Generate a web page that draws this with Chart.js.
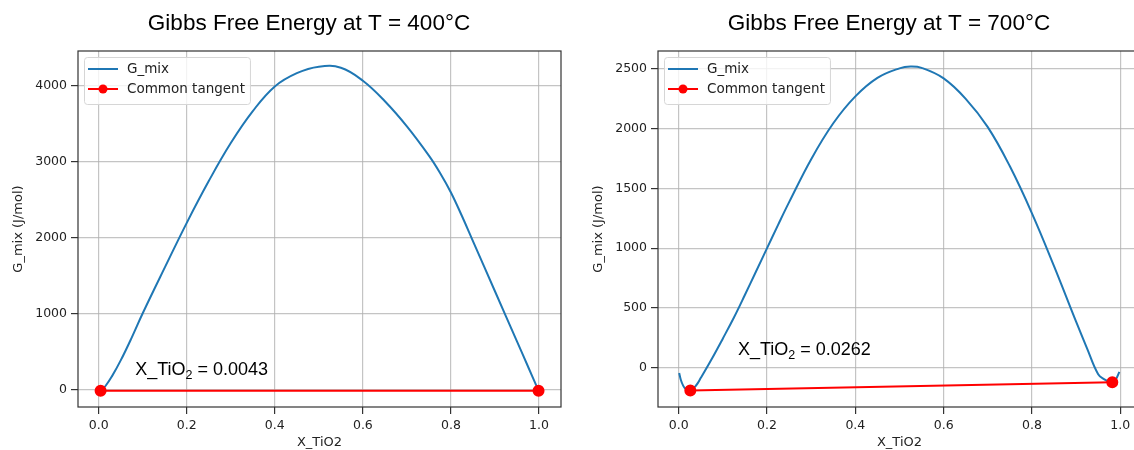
<!DOCTYPE html>
<html>
<head>
<meta charset="utf-8">
<script src="https://cdn.jsdelivr.net/npm/chart.js@4.4.1/dist/chart.umd.min.js"></script>
<style>
  html, body { margin: 0; padding: 0; background: #fff; overflow: hidden; }
  #wrap { position: relative; width: 1134px; height: 450px; overflow: hidden; }
  .panel { position: absolute; top: 0; width: 639px; height: 450px; }
  #p400 { left: 0; }
  #p700 { left: 580px; }
</style>
</head>
<body>
<div id="wrap">
  <div class="panel" id="p400"><canvas id="chart400" width="639" height="450"></canvas></div>
  <div class="panel" id="p700"><canvas id="chart700" width="639" height="450"></canvas></div>
</div>
<script>
// values
var xTicks = [0, 0.2, 0.4, 0.6, 0.8, 1.0];

// T = 400 C
var g400X = [0.001, 0.0043, 0.015, 0.03, 0.05, 0.075, 0.1, 0.15, 0.2, 0.25, 0.3, 0.35, 0.4, 0.45,
             0.5, 0.55, 0.6, 0.65, 0.7, 0.75, 0.775, 0.8, 0.825, 0.85, 0.9, 0.95, 0.975, 0.999];
var g400Y = [-12, -18, 40, 170, 380, 680, 1000, 1600, 2190, 2740, 3240, 3660, 3985, 4160,
             4245, 4230, 4060, 3790, 3460, 3075, 2850, 2590, 2280, 1950, 1290, 630, 300, -18];
var tan400X = [0.0043, 0.999];
var tan400Y = [-18, -18];
var yTicks400 = [0, 1000, 2000, 3000, 4000];

// T = 700 C
var g700X = [0.001, 0.005, 0.01, 0.015, 0.0262, 0.04, 0.05, 0.075, 0.1, 0.125, 0.15, 0.175, 0.2, 0.225,
             0.25, 0.3, 0.35, 0.4, 0.45, 0.5, 0.525, 0.55, 0.6, 0.65, 0.7, 0.75, 0.8, 0.85, 0.9,
             0.925, 0.95, 0.965, 0.975, 0.982, 0.99, 0.998];
var g700Y = [-45, -105, -150, -175, -190, -145, -85, 75, 245, 420, 610, 805, 1000, 1195,
             1385, 1745, 2045, 2270, 2425, 2505, 2520, 2509, 2421, 2250, 2013, 1685, 1292, 850, 385,
             160, -55, -100, -117, -121, -98, -35];
var tan700X = [0.0262, 0.982];
var tan700Y = [-190, -121];
var yTicks700 = [0, 500, 1000, 1500, 2000, 2500];

function pts(xs, ys) {
  return xs.map(function (x, i) { return {x: x, y: ys[i]}; });
}

// title centred where the original figure had it
var titlePlugin = {
  id: 'mplTitle',
  afterDraw: function (chart, args, opts) {
    var ctx = chart.ctx;
    ctx.save();
    ctx.fillStyle = '#000';
    ctx.font = '22.5px "Liberation Sans"';
    ctx.textAlign = 'center';
    ctx.textBaseline = 'middle';
    ctx.fillText(opts.text, opts.x, opts.y);
    ctx.restore();
  }
};

// full box like matplotlib spines
var framePlugin = {
  id: 'frame',
  afterDraw: function (chart) {
    var ca = chart.chartArea, ctx = chart.ctx;
    ctx.save();
    ctx.strokeStyle = '#333';
    ctx.lineWidth = 1.2;
    ctx.strokeRect(ca.left, ca.top, ca.right - ca.left, ca.bottom - ca.top);
    ctx.restore();
  }
};

// legend box in the upper left corner
var legendPlugin = {
  id: 'mplLegend',
  afterDraw: function (chart) {
    var ca = chart.chartArea, ctx = chart.ctx;
    var sets = chart.data.datasets;
    ctx.save();
    ctx.font = '13.5px "DejaVu Sans"';
    var tw = 0;
    sets.forEach(function (d) { tw = Math.max(tw, ctx.measureText(d.label).width); });
    var x0 = ca.left + 6, y0 = ca.top + 6, w = 43 + tw + 5, h = 47;
    ctx.beginPath();
    ctx.roundRect(x0 + 0.5, y0 + 0.5, w, h, 3);
    ctx.fillStyle = 'rgba(255,255,255,0.8)';
    ctx.fill();
    ctx.strokeStyle = '#d6d6d6';
    ctx.lineWidth = 1;
    ctx.stroke();
    sets.forEach(function (d, i) {
      var cy = ca.top + 18 + i * 20;
      ctx.beginPath();
      ctx.moveTo(ca.left + 10, cy);
      ctx.lineTo(ca.left + 40, cy);
      ctx.strokeStyle = d.borderColor;
      ctx.lineWidth = d.borderWidth;
      ctx.stroke();
      if (d.pointRadius > 0) {
        ctx.beginPath();
        ctx.arc(ca.left + 25, cy, 4.5, 0, Math.PI * 2);
        ctx.fillStyle = d.pointBackgroundColor;
        ctx.fill();
      }
      ctx.fillStyle = '#222';
      ctx.textBaseline = 'middle';
      ctx.fillText(d.label, ca.left + 49, cy);
    });
    ctx.restore();
  }
};

// "X_TiO2 = ..." label with subscript, anchored in data coordinates
var notePlugin = {
  id: 'note',
  afterDatasetsDraw: function (chart, args, opts) {
    var ctx = chart.ctx;
    var px = chart.scales.x.getPixelForValue(opts.x);
    var py = chart.scales.y.getPixelForValue(opts.y);
    ctx.save();
    ctx.fillStyle = '#000';
    ctx.textBaseline = 'alphabetic';
    ctx.font = '18px "Liberation Sans"';
    ctx.fillText('X_TiO', px, py);
    px += ctx.measureText('X_TiO').width;
    ctx.font = '12.5px "Liberation Sans"';
    ctx.fillText('2', px, py + 4);
    px += ctx.measureText('2').width;
    ctx.font = '18px "Liberation Sans"';
    ctx.fillText(' = ' + opts.value, px, py);
    ctx.restore();
  }
};

function makeChart(id, cfg) {
  var gridColor = 'rgba(176,176,176,0.75)';
  return new Chart(document.getElementById(id), {
    type: 'line',
    data: {
      datasets: [{
        label: 'G_mix',
        data: pts(cfg.gx, cfg.gy),
        borderColor: '#1f77b4',
        borderWidth: 2,
        pointRadius: 0,
        tension: 0.4,
        order: 1
      }, {
        label: 'Common tangent',
        data: pts(cfg.tx, cfg.ty),
        borderColor: '#ff0000',
        borderWidth: 2,
        pointRadius: 5,
        pointBackgroundColor: '#ff0000',
        pointBorderColor: '#ff0000',
        order: 0
      }]
    },
    options: {
      responsive: false,
      animation: false,
      layout: { padding: { left: 0, right: 78, top: 51, bottom: 0 } },
      plugins: {
        legend: { display: false },
        tooltip: { enabled: false },
        title: { display: false },
        mplTitle: { text: cfg.title, x: 309, y: 24 },
        note: { x: cfg.noteX, y: cfg.noteY, value: cfg.noteText }
      },
      scales: {
        x: {
          type: 'linear',
          min: cfg.xMin,
          max: cfg.xMax,
          afterBuildTicks: function (s) { s.ticks = xTicks.map(function (v) { return {value: v}; }); },
          afterFit: function (s) { s.height = 43; },
          border: { display: false },
          grid: { color: gridColor, lineWidth: 1.2, tickLength: 7, tickColor: '#333', tickWidth: 1.2 },
          ticks: {
            color: '#222', padding: 4, maxRotation: 0,
            font: { family: 'DejaVu Sans', size: 12.5 },
            callback: function (v) { return Number(v).toFixed(1); }
          },
          title: {
            display: true, text: 'X_TiO2', color: '#222',
            font: { family: 'DejaVu Sans', size: 13 },
            padding: { top: 0, bottom: 0 }
          }
        },
        y: {
          min: cfg.yMin,
          max: cfg.yMax,
          afterBuildTicks: function (s) { s.ticks = cfg.yTicks.map(function (v) { return {value: v}; }); },
          afterFit: function (s) { s.width = 78; },
          border: { display: false },
          grid: { color: gridColor, lineWidth: 1.2, tickLength: 7, tickColor: '#333', tickWidth: 1.2 },
          ticks: {
            color: '#222', padding: 4,
            font: { family: 'DejaVu Sans', size: 12.5 },
            callback: function (v) { return String(v); }
          },
          title: {
            display: true, text: 'G_mix (J/mol)', color: '#222',
            font: { family: 'DejaVu Sans', size: 13 },
            padding: { top: 11, bottom: 0 }
          }
        }
      }
    },
    plugins: [notePlugin, framePlugin, legendPlugin, titlePlugin]
  });
}

makeChart('chart400', {
  title: 'Gibbs Free Energy at T = 400°C',
  gx: g400X, gy: g400Y, tx: tan400X, ty: tan400Y,
  xMin: -0.047, xMax: 1.05, yMin: -233, yMax: 4451, yTicks: yTicks400,
  noteX: 0.083, noteY: 190, noteText: '0.0043'
});

makeChart('chart700', {
  title: 'Gibbs Free Energy at T = 700°C',
  gx: g700X, gy: g700Y, tx: tan700X, ty: tan700Y,
  xMin: -0.047, xMax: 1.047, yMin: -329, yMax: 2650, yTicks: yTicks700,
  noteX: 0.134, noteY: 105, noteText: '0.0262'
});
</script>
</body>
</html>
